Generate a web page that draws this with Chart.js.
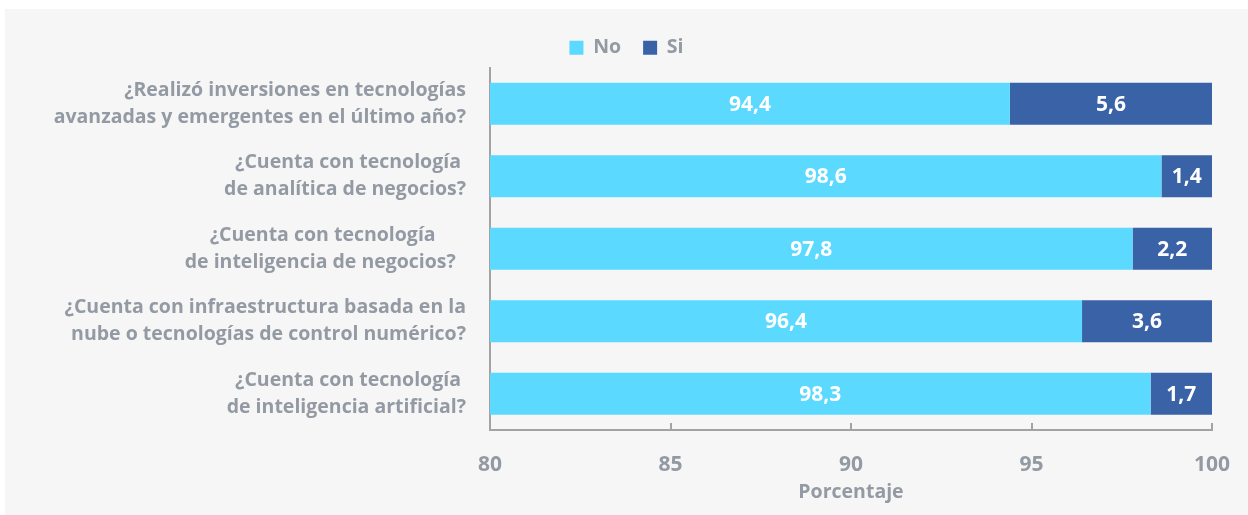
<!DOCTYPE html>
<html>
<head>
<meta charset="utf-8">
<script src="https://cdn.jsdelivr.net/npm/chart.js@4.4.0/dist/chart.umd.min.js"></script>
<style>
  html, body { margin: 0; padding: 0; background: #ffffff; }
  #panel { position: absolute; left: 5px; top: 9px; width: 1243px; height: 506px; background: #f6f6f6; }
  canvas { display: block; }
</style>
</head>
<body>
<div id="panel"><canvas id="c" width="1243" height="506"></canvas></div>
<script>
const categories = [
  ["¿Realizó inversiones en tecnologías", "avanzadas y emergentes en el último año?"],
  ["¿Cuenta con tecnología ", "de analítica de negocios?"],
  ["¿Cuenta con tecnología      ", "de inteligencia de negocios?  "],
  ["¿Cuenta con infraestructura basada en la", "nube o tecnologías de control numérico?"],
  ["¿Cuenta con tecnología ", "de inteligencia artificial?"]
];
const noValues = [94.4, 98.6, 97.8, 96.4, 98.3];
const siValues = [5.6, 1.4, 2.2, 3.6, 1.7];
const seriesNames = ["No", "Si"];
const xTicks = [80, 85, 90, 95, 100];

const GREY = '#939aa3';
const FONT = '"Open Sans"';

const segLabels = {
  id: 'segLabels',
  afterDatasetsDraw(chart) {
    const ctx = chart.ctx, area = chart.chartArea;
    ctx.save();
    ctx.fillStyle = '#ffffff';
    ctx.font = 'bold 21px ' + FONT;
    ctx.textAlign = 'center';
    ctx.textBaseline = 'middle';
    chart.data.datasets.forEach((ds, di) => {
      const meta = chart.getDatasetMeta(di);
      meta.data.forEach((el, i) => {
        const p = el.getProps(['x', 'y', 'base'], true);
        const l = Math.max(Math.min(p.x, p.base), area.left);
        const r = Math.min(Math.max(p.x, p.base), area.right);
        const txt = ds.data[i].toFixed(1).replace('.', ',');
        ctx.fillText(txt, (l + r) / 2, p.y + 1);
      });
    });
    ctx.restore();
  }
};

new Chart(document.getElementById('c'), {
  type: 'bar',
  data: {
    labels: categories,
    datasets: [
      { label: seriesNames[0], data: noValues, backgroundColor: '#5bd9ff', borderWidth: 0 },
      { label: seriesNames[1], data: siValues, backgroundColor: '#3a62a7', borderWidth: 0 }
    ]
  },
  options: {
    indexAxis: 'y',
    responsive: false,
    animation: false,
    devicePixelRatio: 1,
    layout: { padding: { top: 7, right: 0, left: 0, bottom: 0 } },
    datasets: { bar: { barPercentage: 1, categoryPercentage: 0.58 } },
    plugins: {
      legend: {
        position: 'top',
        labels: {
          color: GREY,
          font: { family: FONT, size: 19.5, weight: 'bold' },
          boxWidth: 14, boxHeight: 14, padding: 22
        }
      },
      tooltip: { enabled: false }
    },
    scales: {
      x: {
        stacked: true,
        min: 80, max: 100,
        afterBuildTicks: s => { s.ticks = xTicks.map(v => ({ value: v })); },
        afterFit: s => { s.height = 85; s.paddingRight = 36; },
        ticks: {
          color: GREY,
          font: { family: FONT, size: 21, weight: 'bold' },
          padding: 29,
          maxRotation: 0
        },
        grid: { display: true, drawOnChartArea: false, drawTicks: true, tickLength: -7, color: '#a3a3a3', lineWidth: 2 },
        border: { display: true, color: '#a3a3a3', width: 2 },
        title: {
          display: true, text: 'Porcentaje', color: GREY,
          font: { family: FONT, size: 19.5, weight: 'bold' },
          padding: { top: 0, bottom: 11 }
        }
      },
      y: {
        stacked: true,
        afterFit: s => { s.width = 485; },
        ticks: {
          color: GREY,
          font: { family: FONT, size: 19.5, weight: 'bold', lineHeight: 1.385 },
          padding: 16,
          autoSkip: false
        },
        grid: { display: false },
        border: { display: true, color: '#a3a3a3', width: 2 }
      }
    }
  },
  plugins: [segLabels]
});
</script>
</body>
</html>
